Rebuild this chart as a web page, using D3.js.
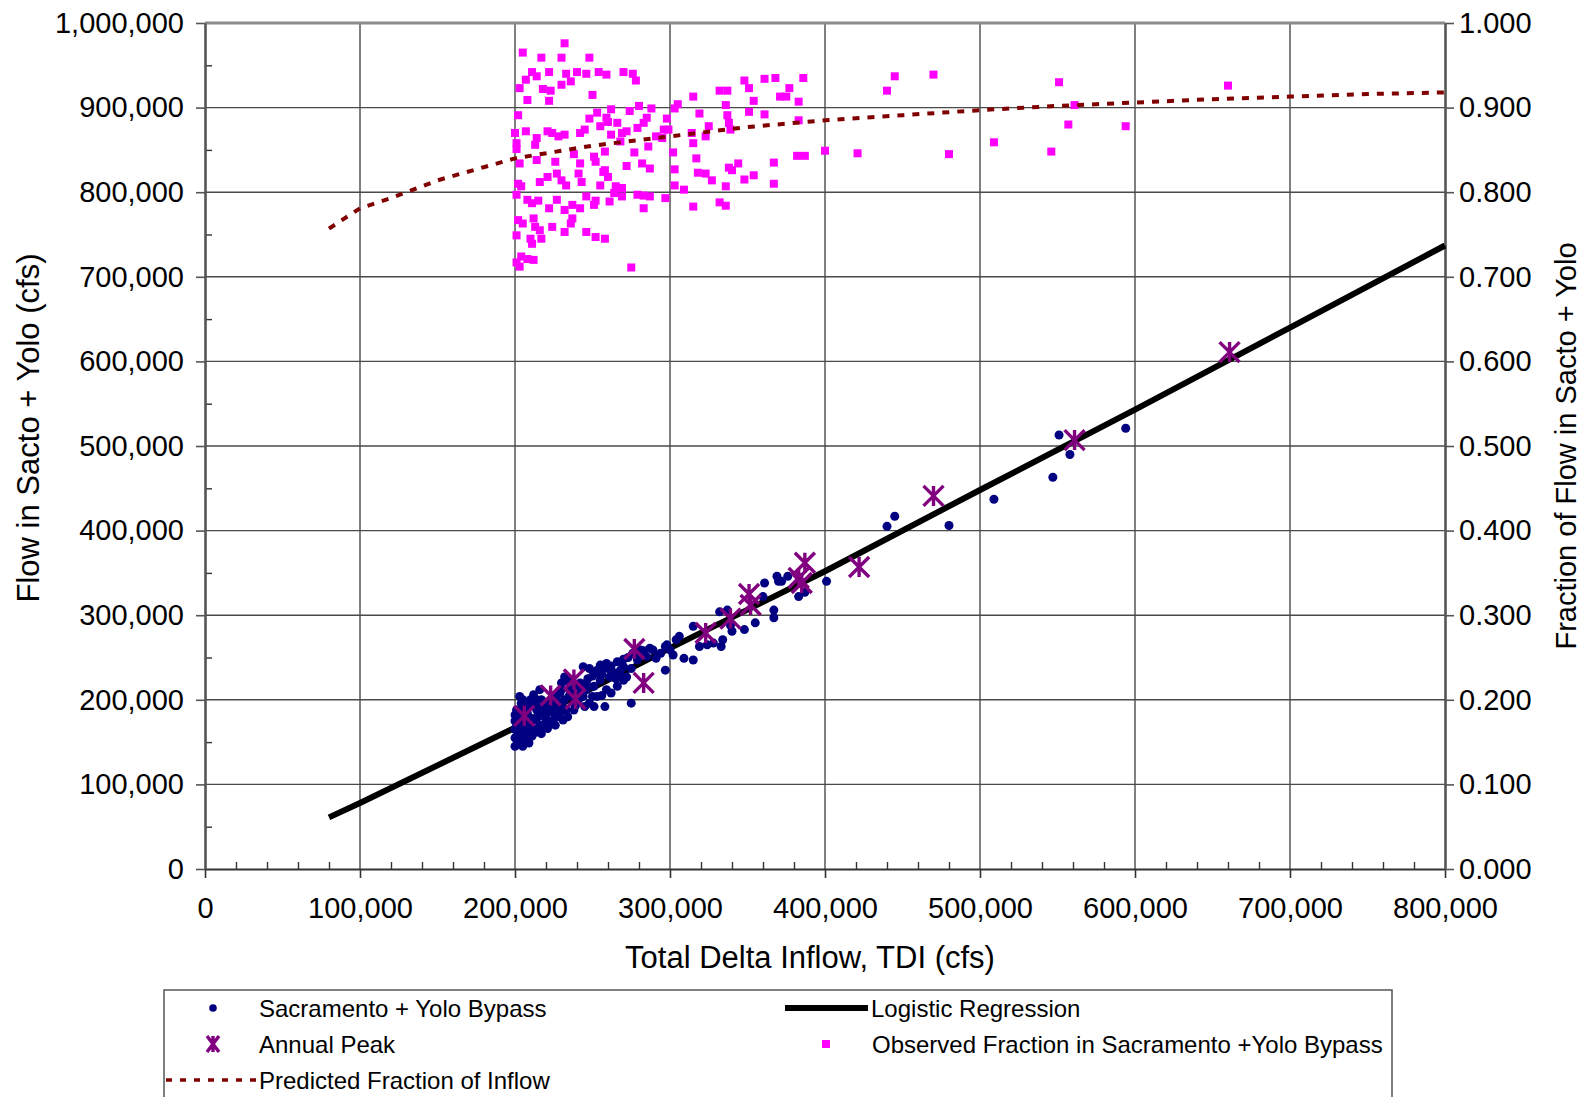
<!DOCTYPE html>
<html><head><meta charset="utf-8">
<script src="https://cdn.jsdelivr.net/npm/d3@7"></script>
<style>
body{margin:0;background:#fff}
svg{display:block}
text{font-family:"Liberation Sans",Arial,sans-serif;fill:#000}
</style>
</head><body>
<svg id="chart" width="1589" height="1097"></svg>
<script>
// ---- DATA (TDI and flow in thousands of cfs) ----
const xTickValues = [0,100,200,300,400,500,600,700,800];
const yTickValues = [0,100,200,300,400,500,600,700,800,900,1000];
const yRightTickValues = [0,0.1,0.2,0.3,0.4,0.5,0.6,0.7,0.8,0.9,1.0];

const seriesNames = ["Sacramento + Yolo Bypass","Logistic Regression","Annual Peak","Observed Fraction in Sacramento +Yolo Bypass","Predicted Fraction of Inflow"];
const xTitle = "Total Delta Inflow, TDI (cfs)";
const yTitle = "Flow in Sacto + Yolo (cfs)";
const yRightTitle = "Fraction of Flow in Sacto + Yolo";

// Sacramento + Yolo Bypass [TDI, flow]
const sacYolo = [
[200,145],[201,153],[202,160],[201,168],[202,176],[201,188],[204,196],[205,200],[206,153],[208,162],[210,168],[211,157],[212,176],[214,188],[215,180],[216,170],[217,200],[218,192],[220,182],[223,188],[225,200],[226,192],[227,180],[229,208],[230,220],[232,200],[233,188],[234,180],[236,212],[242,220],[244,204],[245,192],[246,212],[247,225],[248,237],[251,216],[252,231],[253,204],[255,223],[257,239],[258,192],[259,243],[261,227],[263,233],[266,216],[268,235],[270,239],[272,227],[275,196],[279,247],[281,259],[285,251],[287,261],[289,259],[291,249],[294,255],[297,235],[298,265],[203,204],[212,206],[216,212],[210,200],[205,145],[209,149],[214,162],[218,168],[220,176],[223,172],[231,176],[238,188],[241,200],[251,192],[232,227],[234,222],[244,239],[255,241],[259,212],[250,204],[265,225],[270,223],[275,237],[237,204],[239,216],[228,198],[225,184],[214,200],[208,184],[205,172],[203,162],[211,178],
[203,150],[207,158],[213,165],[217,160],[221,166],[224,175],[226,170],[229,185],
[204,185],[206,190],[209,193],[212,195],[215,190],[219,197],[222,195],[226,205],[230,212],[235,205],[240,210],[243,215],[246,220],[250,228],[253,235],[256,230],[260,237],[262,240],[266,245],[270,248],[273,250],[276,255],[280,252],[283,258],[262,208],[267,230],[256,205],[248,196],[239,193],[231,190],[221,190],[216,185],[209,175],[206,165],[204,158],[207,150],[202,148],[200,155],[200,165],[200,175],[200,182],
[297,263],[300,259],[302,253],[304,271],[306,275],[309,249],[315,247],[315,287],[319,263],[324,265],[328,267],[333,263],[334,271],[337,306],[332,304],[340,281],[339,288],[348,283],[355,291],[367,306],[367,297],[360,322],[361,338],[369,346],[370,340],[376,346],[383,322],[387,327],[401,340],
[372,340],[440,405],[445,417],[480,406],[509,437],[547,463],[551,513],[558,490],[594,521]
];

// Annual Peak [TDI, flow]
const annualPeak = [
[206,181],[223,205],[238,224],[239,201],[277,260],[283,220],[323,279],[339,296],[351,325],[352,312],[383,344],[387,362],[385,338],[422,357],[470,441],[561,507],[661,611]
];

// Logistic Regression [TDI, flow]
const regression = [[80,61],[100,78],[200,167],[300,261],[400,352],[500,448],[600,543],[700,640],[800,737]];

// Predicted Fraction of Inflow [TDI, fraction]
const predicted = [[80,0.757],[100,0.781],[120,0.793],[150,0.814],[200,0.840],[250,0.855],[300,0.866],[350,0.877],[400,0.885],[450,0.891],[500,0.897],[550,0.902],[600,0.906],[650,0.910],[700,0.913],[750,0.916],[800,0.918]];

// Observed Fraction [TDI, fraction]
const observed = [
[232,0.976],[205,0.965],[217,0.959],[230,0.959],[248,0.959],[211,0.942],[207,0.933],[214,0.937],[222,0.942],[233,0.940],[240,0.942],[246,0.940],[254,0.942],[259,0.939],[270,0.942],[276,0.940],[278,0.932],
[203,0.923],[218,0.922],[223,0.920],[230,0.927],[236,0.931],[208,0.909],[222,0.908],[250,0.915],[202,0.891],[248,0.887],[253,0.894],[262,0.898],[259,0.888],[274,0.896],[280,0.902],[288,0.899],[285,0.888],[303,0.899],[305,0.904],[298,0.887],[315,0.913],[319,0.893],[332,0.920],[337,0.920],[336,0.903],[337,0.891],[348,0.932],[351,0.923],[354,0.908],[361,0.934],[368,0.935],[371,0.913],[375,0.913],[377,0.923],[383,0.907],[386,0.935],[351,0.895],[361,0.892],[383,0.885],[382,0.843],[387,0.843],
[200,0.870],[207,0.872],[201,0.858],[214,0.864],[213,0.856],[221,0.872],[224,0.870],[228,0.866],[232,0.868],[242,0.870],[245,0.874],[255,0.878],[260,0.883],[266,0.882],[269,0.870],[272,0.872],[262,0.868],[279,0.876],[283,0.882],[268,0.860],[291,0.866],[296,0.874],[299,0.874],[295,0.864],[325,0.878],[314,0.870],[323,0.866],[315,0.858],[338,0.882],[339,0.874],
[201,0.851],[203,0.834],[214,0.838],[226,0.836],[238,0.845],[242,0.834],[251,0.842],[252,0.836],[258,0.848],[258,0.826],[272,0.831],[277,0.847],[282,0.834],[286,0.854],[287,0.828],[302,0.847],[303,0.827],[317,0.840],[318,0.823],[323,0.822],[327,0.814],[338,0.829],[340,0.826],[344,0.834],[348,0.815],[354,0.820],[367,0.835],[367,0.810],[336,0.807],
[202,0.810],[204,0.807],[216,0.812],[221,0.818],[227,0.822],[230,0.814],[233,0.808],[241,0.822],[243,0.812],[257,0.824],[255,0.808],[260,0.818],[265,0.807],[269,0.805],[264,0.799],[303,0.808],[309,0.803],
[201,0.797],[208,0.791],[211,0.787],[215,0.790],[222,0.781],[227,0.791],[232,0.779],[237,0.785],[242,0.781],[246,0.795],[252,0.790],[251,0.785],[261,0.789],[269,0.795],[279,0.797],[283,0.796],[287,0.795],[297,0.793],[283,0.781],[315,0.783],[332,0.788],[336,0.784],
[202,0.767],[205,0.763],[212,0.769],[213,0.759],[216,0.755],[224,0.759],[232,0.753],[236,0.763],[237,0.769],[246,0.753],[252,0.747],[258,0.745],[201,0.749],[210,0.745],[211,0.739],[217,0.745],
[201,0.717],[204,0.724],[203,0.712],[208,0.721],[212,0.720],[275,0.711],
[445,0.937],[440,0.920],[470,0.939],[400,0.849],[421,0.846],[480,0.845],[509,0.859],[551,0.930],[561,0.903],[557,0.880],[546,0.848],[594,0.878],[660,0.926]
];

// ---- LAYOUT ----
const svg = d3.select("#chart");
const L = 205, R = 1445, T = 23, B = 869;
const x = d3.scaleLinear().domain([0,800]).range([L,R]);
const y = d3.scaleLinear().domain([0,1000]).range([B,T]);
const yR = d3.scaleLinear().domain([0,1]).range([B,T]);
const fmtK = d => d3.format(",")(Math.round(d*1000));
const fmtR = d3.format(".3f");
const tickFont = 29;
const titleFont = 31;

// gridlines
svg.append("g").selectAll("line").data(yTickValues.filter(v=>v>0&&v<1000)).join("line")
  .attr("x1",L).attr("x2",R).attr("y1",d=>y(d)).attr("y2",d=>y(d))
  .attr("stroke","#4a4a4a").attr("stroke-width",1.4);
svg.append("g").selectAll("line").data(xTickValues.filter(v=>v>0&&v<800)).join("line")
  .attr("y1",T).attr("y2",B).attr("x1",d=>x(d)).attr("x2",d=>x(d))
  .attr("stroke","#4a4a4a").attr("stroke-width",1.4);
// top border
svg.append("line").attr("x1",L).attr("x2",R).attr("y1",T).attr("y2",T).attr("stroke","#8a8a8a").attr("stroke-width",3);

function styleAxis(g, w, col){
  g.select(".domain").attr("stroke",col).attr("stroke-width",w);
  g.selectAll(".tick line").attr("stroke",col).attr("stroke-width",1.6);
  g.selectAll(".tick text").attr("font-size",tickFont).attr("font-family","Liberation Sans, Arial, sans-serif").attr("fill","#000");
}

// minor ticks
const minorX = d3.range(0,801,20).filter(v=>v%100!==0);
svg.append("g").attr("transform",`translate(0,${B})`)
  .call(d3.axisBottom(x).tickValues(minorX).tickSize(-7).tickFormat(""))
  .call(g=>{g.select(".domain").remove();g.selectAll(".tick line").attr("stroke","#333").attr("stroke-width",1.4);});
const minorY = d3.range(50,1000,100);
svg.append("g").attr("transform",`translate(${L},0)`)
  .call(d3.axisLeft(y).tickValues(minorY).tickSize(-7).tickFormat(""))
  .call(g=>{g.select(".domain").remove();g.selectAll(".tick line").attr("stroke","#333").attr("stroke-width",1.4);});

// axes
svg.append("g").attr("transform",`translate(0,${B})`)
  .call(d3.axisBottom(x).tickValues(xTickValues).tickSize(9).tickSizeOuter(0).tickPadding(19).tickFormat(d=>d===0?"0":fmtK(d)))
  .call(g=>styleAxis(g,2.2,"#333"));
svg.append("g").attr("transform",`translate(${L},0)`)
  .call(d3.axisLeft(y).tickValues(yTickValues).tickSize(9).tickSizeOuter(0).tickPadding(12).tickFormat(d=>d===0?"0":fmtK(d)))
  .call(g=>styleAxis(g,2.6,"#555"));
svg.append("g").attr("transform",`translate(${R},0)`)
  .call(d3.axisRight(yR).tickValues(yRightTickValues).tickSize(9).tickSizeOuter(0).tickPadding(5).tickFormat(fmtR))
  .call(g=>styleAxis(g,2.6,"#555"));

// axis titles
svg.append("text").attr("x",810).attr("y",957).attr("text-anchor","middle").attr("dominant-baseline","central")
  .attr("font-size",titleFont).text(xTitle);
svg.append("text").attr("transform","translate(28,428) rotate(-90)").attr("text-anchor","middle").attr("dominant-baseline","central")
  .attr("font-size",titleFont).text(yTitle);
svg.append("text").attr("transform","translate(1566,446) rotate(-90)").attr("text-anchor","middle").attr("dominant-baseline","central")
  .attr("font-size",29).text(yRightTitle);

// regression line
const lineMain = d3.line().x(d=>x(d[0])).y(d=>y(d[1]));
svg.append("path").datum(regression).attr("d",lineMain).attr("fill","none").attr("stroke","#000").attr("stroke-width",6);

// blue points
const navy = "#000080";
svg.append("g").selectAll("circle").data(sacYolo).join("circle")
  .attr("cx",d=>x(d[0])).attr("cy",d=>y(d[1])).attr("r",4.5).attr("fill",navy);

// stars
const starPath = (s,h) => `M${-s},${-h}L${s},${h}M${s},${-h}L${-s},${h}M0,${-h}L0,${h}`;
const purple = "#800080";
svg.append("g").selectAll("path").data(annualPeak).join("path")
  .attr("transform",d=>`translate(${x(d[0])},${y(d[1])})`)
  .attr("d",starPath(10,10)).attr("fill","none").attr("stroke",purple).attr("stroke-width",3.4);

// observed squares
const pink = "#ff00ff";
svg.append("g").selectAll("rect").data(observed).join("rect")
  .attr("x",d=>x(d[0])-4).attr("y",d=>yR(d[1])-4).attr("width",8).attr("height",8).attr("fill",pink);

// predicted dashed
const lineR = d3.line().x(d=>x(d[0])).y(d=>yR(d[1]));
svg.append("path").datum(predicted).attr("d",lineR).attr("fill","none").attr("stroke","#800000")
  .attr("stroke-width",4).attr("stroke-dasharray","7,8");

// ---- LEGEND ----
const lg = svg.append("g");
lg.append("rect").attr("x",164).attr("y",990).attr("width",1228).attr("height",130)
  .attr("fill","#fff").attr("stroke","#555").attr("stroke-width",1.5);
const rows = [1008,1044,1080];
const lf = 24;
lg.append("circle").attr("cx",213).attr("cy",rows[0]).attr("r",3.8).attr("fill",navy);
lg.append("text").attr("x",259).attr("y",rows[0]).attr("dominant-baseline","central").attr("font-size",lf).text(seriesNames[0]);
lg.append("line").attr("x1",785).attr("x2",868).attr("y1",rows[0]).attr("y2",rows[0]).attr("stroke","#000").attr("stroke-width",6);
lg.append("text").attr("x",871).attr("y",rows[0]).attr("dominant-baseline","central").attr("font-size",lf).text(seriesNames[1]);
lg.append("path").attr("transform",`translate(213,${rows[1]})`).attr("d",starPath(6,8)).attr("fill","none").attr("stroke",purple).attr("stroke-width",3.4);
lg.append("text").attr("x",259).attr("y",rows[1]).attr("dominant-baseline","central").attr("font-size",lf).text(seriesNames[2]);
lg.append("rect").attr("x",822).attr("y",rows[1]-4).attr("width",8).attr("height",8).attr("fill",pink);
lg.append("text").attr("x",872).attr("y",rows[1]).attr("dominant-baseline","central").attr("font-size",lf).text(seriesNames[3]);
lg.append("line").attr("x1",166).attr("x2",256).attr("y1",rows[2]).attr("y2",rows[2]).attr("stroke","#800000").attr("stroke-width",3.6).attr("stroke-dasharray","6,8");
lg.append("text").attr("x",259).attr("y",rows[2]).attr("dominant-baseline","central").attr("font-size",lf).text(seriesNames[4]);
</script>
</body></html>
